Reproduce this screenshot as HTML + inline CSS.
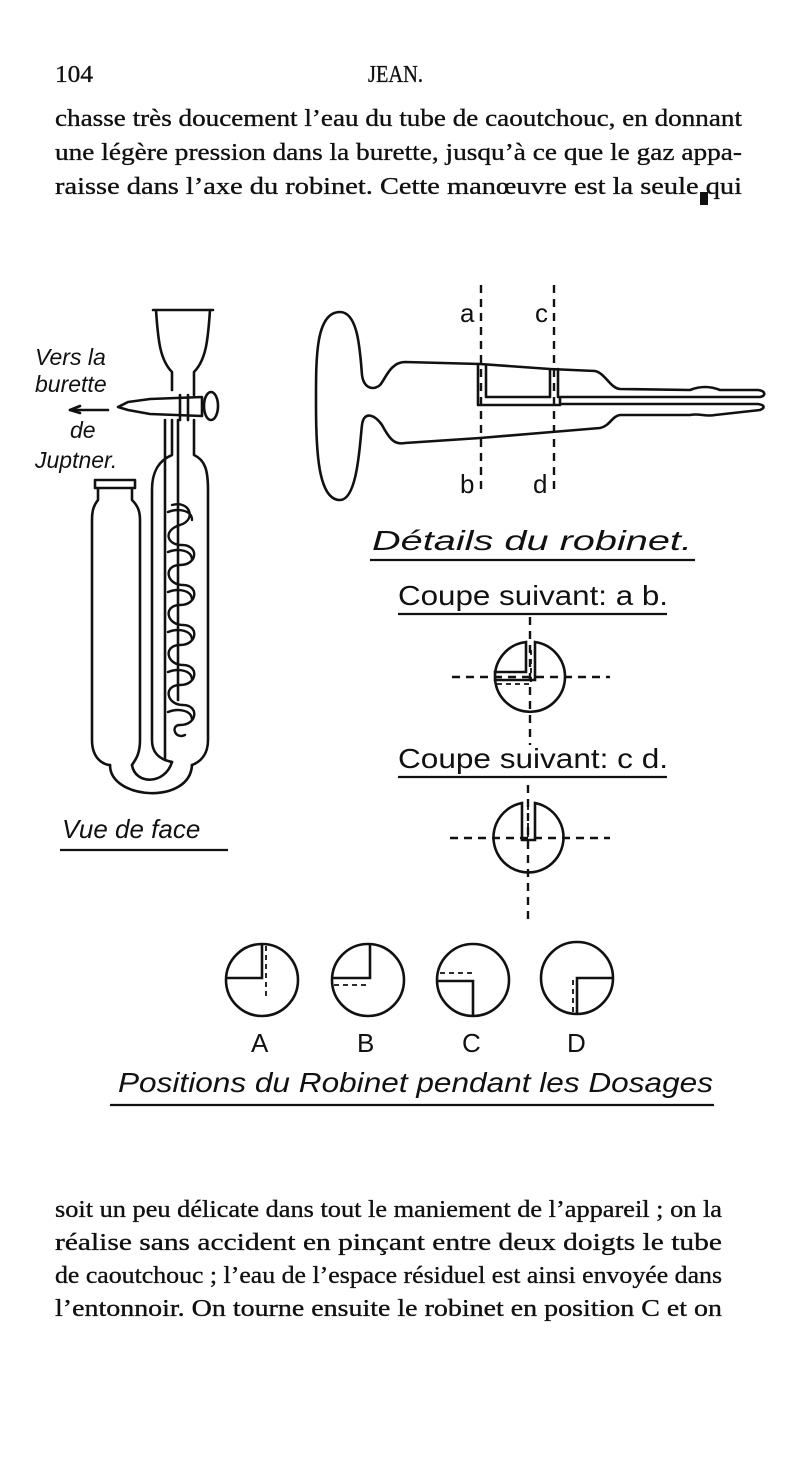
<!DOCTYPE html>
<html><head><meta charset="utf-8"><style>
html,body{margin:0;padding:0;background:#fff}
svg{display:block}
.t{font-family:"Liberation Serif",serif;font-size:24px;fill:#111;stroke:#111;stroke-width:0.35}
.h{font-family:"Liberation Sans",sans-serif;fill:#111}
.i{font-family:"Liberation Sans",sans-serif;font-style:italic;fill:#111}
</style></head><body>
<svg width="800" height="1475" viewBox="0 0 800 1475" xmlns="http://www.w3.org/2000/svg">
<text class="t" x="55" y="82" textLength="38" lengthAdjust="spacingAndGlyphs" font-size="22">104</text>
<text class="t" x="368" y="82" textLength="55" lengthAdjust="spacingAndGlyphs" font-size="22">JEAN.</text>
<text class="t" x="55" y="126" textLength="687" lengthAdjust="spacingAndGlyphs">chasse très doucement l’eau du tube de caoutchouc, en donnant</text>
<text class="t" x="55" y="160" textLength="687" lengthAdjust="spacingAndGlyphs">une légère pression dans la burette, jusqu’à ce que le gaz appa-</text>
<text class="t" x="55" y="194" textLength="687" lengthAdjust="spacingAndGlyphs">raisse dans l’axe du robinet. Cette manœuvre est la seule qui</text>
<rect x="700" y="192" width="8" height="13" fill="#111"/>

<text class="t" x="55" y="1217" textLength="667" lengthAdjust="spacingAndGlyphs">soit un peu délicate dans tout le maniement de l’appareil ; on la</text>
<text class="t" x="55" y="1250" textLength="667" lengthAdjust="spacingAndGlyphs">réalise sans accident en pinçant entre deux doigts le tube</text>
<text class="t" x="55" y="1283" textLength="667" lengthAdjust="spacingAndGlyphs">de caoutchouc ; l’eau de l’espace résiduel est ainsi envoyée dans</text>
<text class="t" x="55" y="1316" textLength="667" lengthAdjust="spacingAndGlyphs">l’entonnoir. On tourne ensuite le robinet en position C et on</text>

<g fill="none" stroke="#111" stroke-width="2.6" stroke-linecap="round" stroke-linejoin="round">
<path d="M153 310 L213 310 M156 310 C158 340 160 360 172 372 L172 390 M210 310 C208 340 206 360 194 372 L194 395"/>
<path d="M172 420 L172 455 C160 460 152 470 152 490 L152 740 C152 755 162 760 172 762 M194 420 L194 455 C205 460 208 470 208 490 L208 740 C208 755 200 762 192 765"/>
<path d="M180 395 L180 420 M188 395 L188 420"/>
<path d="M165 420 L165 760 M178 420 L178 700"/>
<path d="M150 399 L202 397 L202 416 L150 414 L128 410 L118 407 L128 402 Z"/>
<ellipse cx="211" cy="406" rx="7" ry="14"/>
<path d="M70 410 L108 410"/>
<path d="M70 410 L80 406 M70 410 L80 413"/>
<path d="M95 480 L135 480 L135 488 L95 488 Z"/>
<path d="M98 488 L98 500 C94 505 92 510 92 520 L92 740 C92 760 105 765 110 765 M132 488 L132 500 C137 505 140 510 140 520 L140 740 C140 755 135 760 132 765"/>
<path d="M110 765 C110 800 190 805 192 765 M132 765 C135 785 165 785 172 762"/>
<g stroke-width="2.4">
<path d="M172 505 C190 500 197 520 180 525 C163 530 166 545 182 545 C199 545 198 565 180 565 C163 565 166 585 183 585 C199 585 198 605 180 605 C163 605 166 625 183 625 C199 625 198 645 180 645 C163 645 166 665 183 665 C199 665 198 685 180 685 C163 685 166 705 183 705 C199 705 198 725 180 725 C170 725 175 740 185 735"/>
<path d="M168 512 C178 508 192 510 192 520 M168 552 C178 548 192 550 192 560 M168 592 C178 588 192 590 192 600 M168 632 C178 628 192 630 192 640 M168 672 C178 668 192 670 192 680 M168 712 C178 708 192 710 192 720"/>
</g>

<path d="M340 312 C315 312 316 360 316 405 C316 450 318 500 340 500 C358 500 360 440 362 425 C364 410 375 415 382 425 C390 440 395 445 405 443 L480 438 L552 432 L600 428 C610 426 612 416 620 415 L690 415 C700 413 705 417 715 415 L760 410 C765 408 765 405 758 404 L560 404 L560 397 L760 397 C766 396 766 391 758 390 L720 390 C710 386 700 386 690 390 L620 389 C610 388 605 373 595 371 L550 369 L480 364 L405 362 C390 362 385 380 380 385 C375 390 364 390 362 375 C360 350 358 312 340 312 Z"/>
<path d="M478 364 L478 405 L560 405 M486 366 L486 397 L550 397 L550 369 M558 369 L558 397"/>
</g>
<g fill="none" stroke="#111" stroke-width="2.4" stroke-dasharray="8,6">
<path d="M481 285 L481 495 M554 285 L554 495"/>
<path d="M452 677 L610 677 M530 617 L530 745"/>
<path d="M450 838 L610 838 M528 785 L528 920"/>
</g>
<g class="h" font-size="26">
<text x="460" y="322">a</text><text x="535" y="322">c</text>
<text x="460" y="493">b</text><text x="533" y="493">d</text>
</g>

<g fill="none" stroke="#111" stroke-width="2.6">
<path d="M526 642 A35 35 0 1 0 565 677 A35 35 0 0 0 535 642 L535 680 L495 680 L495 672 L526 672 Z"/>
<path d="M522 803 A35 35 0 1 0 535 803 L535 840 L522 840 Z"/>
<circle cx="262" cy="980" r="36"/><path d="M262 944 L262 978 L226 978"/>
<circle cx="368" cy="980" r="36"/><path d="M370 944 L370 978 L332 978"/>
<circle cx="473" cy="980" r="36"/><path d="M438 981 L473 981 L473 1016"/>
<circle cx="577" cy="978" r="36"/><path d="M613 978 L577 978 L577 1014"/>
<path d="M60 850 L228 850 M370 560 L695 560 M398 614 L667 614 M398 777 L667 777 M110 1105 L714 1105" stroke-width="2.2"/>
</g>
<g fill="none" stroke="#111" stroke-width="1.8" stroke-dasharray="5,4">
<path d="M266 946 L266 1000"/><path d="M334 985 L370 985"/><path d="M440 973 L475 973"/><path d="M573 980 L573 1014"/>
<path d="M531 650 L531 684 L497 684"/><path d="M528 805 L528 840"/>
</g>

<g class="i" font-size="23">
<text x="35" y="365">Vers la</text>
<text x="35" y="392">burette</text>
<text x="70" y="438">de</text>
<text x="35" y="468">Juptner.</text>
<text x="62" y="838" font-size="26">Vue de face</text>
<text x="372" y="550" font-size="28" textLength="320" lengthAdjust="spacingAndGlyphs">Détails du robinet.</text>
<text x="118" y="1092" font-size="28" textLength="595" lengthAdjust="spacingAndGlyphs">Positions du Robinet pendant les Dosages</text>
</g>
<g class="h" font-size="28">
<text x="398" y="605" textLength="270" lengthAdjust="spacingAndGlyphs">Coupe suivant: a b.</text>
<text x="398" y="768" textLength="270" lengthAdjust="spacingAndGlyphs">Coupe suivant: c d.</text>
<text x="251" y="1052" font-size="26">A</text>
<text x="357" y="1052" font-size="26">B</text>
<text x="462" y="1052" font-size="26">C</text>
<text x="567" y="1052" font-size="26">D</text>
</g>
</svg>
</body></html>
